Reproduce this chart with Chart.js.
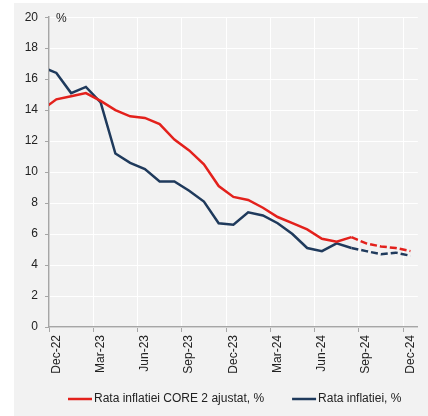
<!DOCTYPE html>
<html>
<head>
<meta charset="utf-8">
<script src="https://cdn.jsdelivr.net/npm/chart.js@4/dist/chart.umd.min.js"></script>
<style>
  body { margin: 0; background: #ffffff; }
  #wrap { position: absolute; left: 14px; top: 3px; width: 414px; height: 413px; background: #f2f2f2; }
</style>
</head>
<body>
<div id="wrap"><canvas id="inflChart" width="414" height="413"></canvas></div>
<script>
// months (Nov-22 sits just left of the visible range, the line runs in from it)
const months = ['Nov-22', 'Dec-22', 'Jan-23', 'Feb-23', 'Mar-23', 'Apr-23', 'May-23', 'Jun-23',
  'Jul-23', 'Aug-23', 'Sep-23', 'Oct-23', 'Nov-23', 'Dec-23', 'Jan-24', 'Feb-24', 'Mar-24',
  'Apr-24', 'May-24', 'Jun-24', 'Jul-24', 'Aug-24', 'Sep-24', 'Oct-24', 'Nov-24', 'Dec-24'];

const core2Values = [14.0, 14.7, 14.9, 15.1, 14.6, 14.0, 13.6, 13.5, 13.1, 12.1, 11.4, 10.5, 9.1,
  8.4, 8.2, 7.7, 7.1, 6.7, 6.3, 5.7, 5.5, 5.8, 5.4, 5.2, 5.1, 4.9];

const cpiValues = [16.8, 16.4, 15.1, 15.5, 14.5, 11.2, 10.6, 10.2, 9.4, 9.4, 8.8, 8.1, 6.7,
  6.6, 7.4, 7.2, 6.7, 6.0, 5.1, 4.9, 5.4, 5.1, 4.9, 4.7, 4.8, 4.6];

const seriesNames = ['Rata inflatiei CORE 2 ajustat, %', 'Rata inflatiei, %'];
const seriesColors = ['#e3211c', '#1f3a5c'];

// quarterly tick labels on the x axis
const tickMonths = ['Dec-22', 'Mar-23', 'Jun-23', 'Sep-23', 'Dec-23', 'Mar-24', 'Jun-24', 'Sep-24', 'Dec-24'];

const firstMonth = 'Dec-22';
const lastMonth = 'Dec-24';
const forecastFrom = months.indexOf('Aug-24');

const FONT = { family: '"Liberation Sans", Arial, sans-serif', size: 12 };
const AXIS_GRAY = '#a6a6a6';
const NONE = 'rgba(0,0,0,0)';

const dashed = ctx => ctx.p0DataIndex >= forecastFrom ? [7, 3] : undefined;
const isQuarter = ctx => !!(ctx.tick && tickMonths.includes(months[ctx.tick.value]));

// unit label + legend drawn by hand so the spacing matches
const extras = {
  id: 'extras',
  afterDraw(chart) {
    const c = chart.ctx;
    const area = chart.chartArea;
    c.save();
    c.font = FONT.size + 'px ' + FONT.family;
    c.fillStyle = '#222';
    c.textBaseline = 'middle';
    c.textAlign = 'left';
    c.fillText('%', area.left + 7, area.top + 1.5);

    let x = 54;
    const y = 396;
    chart.data.datasets.forEach(ds => {
      c.strokeStyle = ds.borderColor;
      c.lineWidth = 2.5;
      c.beginPath();
      c.moveTo(x, y);
      c.lineTo(x + 24, y);
      c.stroke();
      c.fillStyle = '#222';
      c.fillText(ds.label, x + 26, y);
      x += 26 + c.measureText(ds.label).width + 28;
    });
    c.restore();
  }
};

new Chart(document.getElementById('inflChart'), {
  type: 'line',
  data: {
    labels: months,
    datasets: [
      {
        label: seriesNames[0],
        data: core2Values,
        borderColor: seriesColors[0],
        backgroundColor: seriesColors[0],
        borderWidth: 2.5,
        pointRadius: 0,
        tension: 0,
        clip: { left: 0, top: 5, right: 5, bottom: 5 },
        segment: { borderDash: dashed }
      },
      {
        label: seriesNames[1],
        data: cpiValues,
        borderColor: seriesColors[1],
        backgroundColor: seriesColors[1],
        borderWidth: 2.5,
        pointRadius: 0,
        tension: 0,
        clip: { left: 0, top: 5, right: 5, bottom: 5 },
        segment: { borderDash: dashed }
      }
    ]
  },
  options: {
    responsive: false,
    animation: false,
    layout: { padding: { top: 11, right: 8, bottom: 0, left: 0 } },
    plugins: {
      legend: { display: false },
      tooltip: { enabled: false }
    },
    scales: {
      x: {
        type: 'category',
        min: firstMonth,
        max: lastMonth,
        offset: true,
        afterFit: s => { s.height = 89; },
        border: { display: true, color: AXIS_GRAY, width: 1.5 },
        grid: {
          offset: true,
          color: ctx => isQuarter(ctx) ? '#ffffff' : NONE,
          tickColor: ctx => isQuarter(ctx) ? AXIS_GRAY : NONE,
          tickLength: 5,
          lineWidth: 1
        },
        ticks: {
          autoSkip: false,
          maxRotation: 90,
          minRotation: 90,
          padding: 3,
          color: '#222',
          font: FONT,
          callback: function (value) {
            const m = this.getLabelForValue(value);
            return tickMonths.includes(m) ? m : '';
          }
        }
      },
      y: {
        min: 0,
        max: 20,
        afterFit: s => { s.width = 35; },
        border: { display: true, color: AXIS_GRAY, width: 1.5 },
        grid: {
          color: '#ffffff',
          tickColor: AXIS_GRAY,
          tickLength: 4,
          lineWidth: 1
        },
        ticks: {
          stepSize: 2,
          padding: 7,
          color: '#222',
          font: FONT
        }
      }
    }
  },
  plugins: [extras]
});
</script>
</body>
</html>
